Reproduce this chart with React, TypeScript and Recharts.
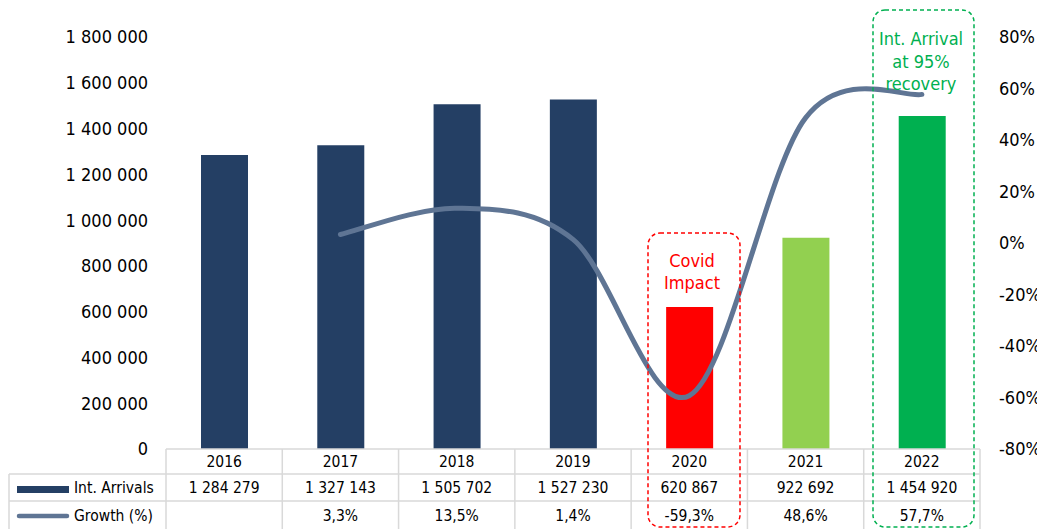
import React from 'react';
import { ComposedChart, Bar, Line, YAxis, XAxis, Cell } from 'recharts';

// Yearly international arrivals and year-on-year growth
const years = ['2016', '2017', '2018', '2019', '2020', '2021', '2022'];
const arrivals = [1284279, 1327143, 1505702, 1527230, 620867, 922692, 1454920];
const growth: (number | null)[] = [null, 3.3, 13.5, 1.4, -59.3, 48.6, 57.7];
const growthLabels = ['', '3,3%', '13,5%', '1,4%', '-59,3%', '48,6%', '57,7%'];
const barColors = ['#243F64', '#243F64', '#243F64', '#243F64', '#FF0000', '#92D050', '#00B050'];
const leftTicks = [0, 200000, 400000, 600000, 800000, 1000000, 1200000, 1400000, 1600000, 1800000];
const rightTicks = [-80, -60, -40, -20, 0, 20, 40, 60, 80];

const data = years.map((year, i) => ({ year, arrivals: arrivals[i], growth: growth[i] }));

const W = 1045;
const H = 529;
const PLOT_LEFT = 166;
const PLOT_RIGHT = 980;
const PLOT_TOP = 37;
const PLOT_BOTTOM = 449;
const COL_W = (PLOT_RIGHT - PLOT_LEFT) / years.length;

const FONT = "'DejaVu Sans Condensed', 'DejaVu Sans', sans-serif";
const NAVY = '#243F64';
const SLATE = '#5F7594';
const GRID = '#D9D9D9';

const fmtThousands = (v: number) => String(Math.round(v)).replace(/\B(?=(\d{3})+(?!\d))/g, ' ');

// Smooth line through every point (cubic Bezier, Catmull-Rom tangents)
const smoothCurve = (context: any) => {
  let pts: [number, number][] = [];
  return {
    areaStart() {},
    areaEnd() {},
    lineStart() {
      pts = [];
    },
    point(x: number, y: number) {
      pts.push([+x, +y]);
    },
    lineEnd() {
      if (!pts.length) return;
      context.moveTo(pts[0][0], pts[0][1]);
      for (let i = 0; i < pts.length - 1; i++) {
        const p0 = pts[i - 1] || pts[i];
        const p1 = pts[i];
        const p2 = pts[i + 1];
        const p3 = pts[i + 2] || pts[i + 1];
        const c1x = p1[0] + (p2[0] - p0[0]) / 6;
        const c1y = p1[1] + (p2[1] - p0[1]) / 6;
        const c2x = p2[0] - (p3[0] - p1[0]) / 6;
        const c2y = p2[1] - (p3[1] - p1[1]) / 6;
        context.bezierCurveTo(c1x, c1y, c2x, c2y, p2[0], p2[1]);
      }
    },
  };
};

const rowTops = [PLOT_BOTTOM, 474, 501, H + 4];

function DataTable() {
  const textStyle = { fontFamily: FONT, fontSize: 15.5, fill: '#000' } as const;
  return (
    <svg width={W} height={H} style={{ position: 'absolute', left: 0, top: 0, pointerEvents: 'none' }}>
      {/* horizontal rules */}
      <line x1={PLOT_LEFT} x2={PLOT_RIGHT} y1={rowTops[0]} y2={rowTops[0]} stroke={GRID} strokeWidth={1.5} />
      <line x1={9} x2={PLOT_RIGHT} y1={rowTops[1]} y2={rowTops[1]} stroke={GRID} strokeWidth={1.5} />
      <line x1={9} x2={PLOT_RIGHT} y1={rowTops[2]} y2={rowTops[2]} stroke={GRID} strokeWidth={1.5} />
      {/* vertical rules */}
      <line x1={9} x2={9} y1={rowTops[1]} y2={rowTops[3]} stroke={GRID} strokeWidth={1.5} />
      {Array.from({ length: years.length + 1 }, (_, i) => (
        <line
          key={i}
          x1={PLOT_LEFT + i * COL_W}
          x2={PLOT_LEFT + i * COL_W}
          y1={rowTops[0]}
          y2={rowTops[3]}
          stroke={GRID}
          strokeWidth={1.5}
        />
      ))}
      {/* legend keys */}
      <rect x={17} y={486} width={52} height={7} fill={NAVY} />
      <text x={74} y={488} dominantBaseline="central" {...textStyle}>Int. Arrivals</text>
      <line x1={19} x2={67} y1={516} y2={516} stroke={SLATE} strokeWidth={4.5} strokeLinecap="round" />
      <text x={74} y={516} dominantBaseline="central" {...textStyle}>Growth (%)</text>
      {years.map((y, i) => {
        const cx = PLOT_LEFT + (i + 0.5) * COL_W;
        return (
          <g key={y}>
            <text x={cx} y={462} textAnchor="middle" dominantBaseline="central" {...textStyle}>{y}</text>
            <text x={cx} y={488} textAnchor="middle" dominantBaseline="central" {...textStyle}>
              {fmtThousands(arrivals[i])}
            </text>
            <text x={cx} y={516} textAnchor="middle" dominantBaseline="central" {...textStyle}>
              {growthLabels[i]}
            </text>
          </g>
        );
      })}
    </svg>
  );
}

function Callouts() {
  const t = { fontFamily: FONT, fontSize: 18 } as const;
  return (
    <svg width={W} height={H} style={{ position: 'absolute', left: 0, top: 0, pointerEvents: 'none' }}>
      <rect x={648} y={233} width={92} height={294} rx={12} ry={12} fill="none" stroke="#FF0000" strokeWidth={1.5} strokeDasharray="4 3" />
      <text x={692} y={260} textAnchor="middle" dominantBaseline="central" fill="#FF0000" {...t}>Covid</text>
      <text x={692} y={282} textAnchor="middle" dominantBaseline="central" fill="#FF0000" {...t}>Impact</text>
      <rect x={873} y={10} width={101} height={517} rx={12} ry={12} fill="none" stroke="#00B050" strokeWidth={1.5} strokeDasharray="4 3" />
      <text x={921} y={38} textAnchor="middle" dominantBaseline="central" fill="#00B050" {...t}>Int. Arrival</text>
      <text x={921} y={61} textAnchor="middle" dominantBaseline="central" fill="#00B050" {...t}>at 95%</text>
      <text x={921} y={83} textAnchor="middle" dominantBaseline="central" fill="#00B050" {...t}>recovery</text>
    </svg>
  );
}

export default function App() {
  return (
    <div style={{ position: 'relative', width: W, height: H, margin: '-8px 0 0 -8px', background: '#fff', fontFamily: FONT }}>
      <ComposedChart
        width={W}
        height={H}
        data={data}
        margin={{ top: PLOT_TOP, right: 0, bottom: H - PLOT_BOTTOM, left: 0 }}
        barCategoryGap="30%"
      >
        <XAxis dataKey="year" hide />
        <YAxis
          yAxisId="left"
          width={PLOT_LEFT}
          domain={[0, 1800000]}
          ticks={leftTicks}
          tickFormatter={fmtThousands}
          axisLine={false}
          tickLine={false}
          tickMargin={12}
          tick={{ fontSize: 18, fill: '#000', fontFamily: FONT }}
          interval={0}
        />
        <YAxis
          yAxisId="right"
          orientation="right"
          width={W - PLOT_RIGHT}
          domain={[-80, 80]}
          ticks={rightTicks}
          tickFormatter={(v: number) => `${v}%`}
          axisLine={false}
          tickLine={false}
          tickMargin={13}
          tick={{ fontSize: 18, fill: '#000', fontFamily: FONT }}
          interval={0}
        />
        <Bar yAxisId="left" dataKey="arrivals" barSize={47} isAnimationActive={false}>
          {data.map((d, i) => (
            <Cell key={d.year} fill={barColors[i]} />
          ))}
        </Bar>
        <Line
          yAxisId="right"
          dataKey="growth"
          type={smoothCurve as any}
          stroke={SLATE}
          strokeWidth={5}
          strokeLinecap="round"
          dot={false}
          activeDot={false}
          isAnimationActive={false}
        />
      </ComposedChart>
      <DataTable />
      <Callouts />
    </div>
  );
}
